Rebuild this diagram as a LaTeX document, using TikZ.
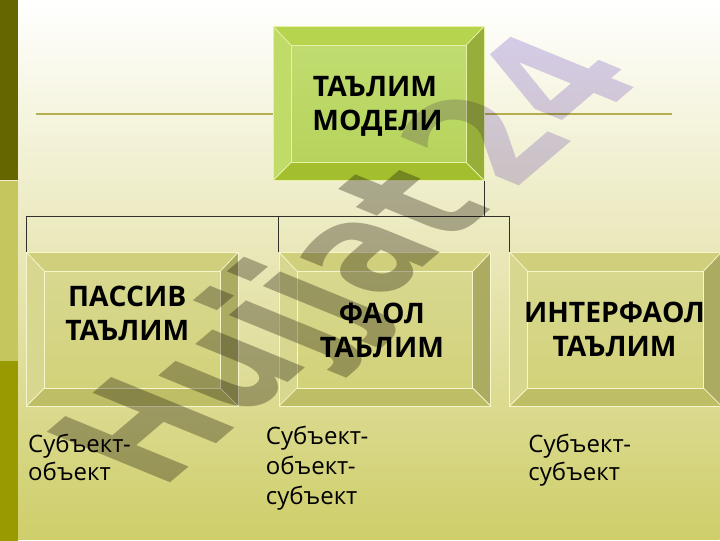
\documentclass[tikz,border=0pt]{standalone}
\usepackage{fontspec}
\setmainfont{Open Sans}
\newfontfamily\markfont{DejaVu Sans}
\usepackage{tikz}
\usetikzlibrary{calc,positioning}
\newlength{\px}
\setlength{\px}{.75pt}
\definecolor{barTop}{HTML}{666600}
\definecolor{barMid}{HTML}{C6C65E}
\definecolor{barLow}{HTML}{999900}
\definecolor{ruleCol}{HTML}{B4AE50}
\definecolor{pageMid}{HTML}{E8E6B4}
\definecolor{pageLow}{HTML}{CECE6A}
\definecolor{greenA}{HTML}{C0DC70}
\definecolor{greenB}{HTML}{B6D45C}
\definecolor{greenTop}{HTML}{B6D44E}
\definecolor{greenRight}{HTML}{97AF3A}
\definecolor{greenLow}{HTML}{A3BF2E}
\definecolor{greenLine}{HTML}{E6F0A6}
\definecolor{oliveA}{HTML}{D8D890}
\definecolor{oliveB}{HTML}{D2D27A}
\definecolor{oliveTop}{HTML}{D0D07C}
\definecolor{oliveRight}{HTML}{ABAB62}
\definecolor{oliveLow}{HTML}{BEBE66}
\definecolor{oliveLine}{HTML}{F6F6CC}
\definecolor{markGrey}{HTML}{B6B4B0}
\definecolor{markLilac}{HTML}{D8CFF2}

\begin{document}
\begin{tikzpicture}[auto,
	page/.style={rectangle,inner sep=0pt,minimum width=720\px,minimum height=540\px,top color=white,bottom color=pageLow,middle color=pageMid},
	bar/.style={rectangle,inner sep=0pt,minimum width=18\px,minimum height=180\px},
	bevelbox/.style n args={6}{rectangle,inner sep=0pt,minimum width=212\px,minimum height=154\px,draw=#6,semithick,
		path picture={
			\coordinate (o1) at (path picture bounding box.north west);
			\coordinate (o2) at (path picture bounding box.north east);
			\coordinate (o3) at (path picture bounding box.south east);
			\coordinate (o4) at (path picture bounding box.south west);
			\coordinate (i1) at ($(o1)+(18\px,-19\px)$);
			\coordinate (i2) at ($(o2)+(-18\px,-19\px)$);
			\coordinate (i3) at ($(o3)+(-18\px,18\px)$);
			\coordinate (i4) at ($(o4)+(18\px,18\px)$);
			\shade [top color=#1,bottom color=#2] (i1) rectangle (i3);
			\fill [#3] (o1) -- (o2) -- (i2) -- (i1) -- cycle;
			\fill [#4] (o2) -- (o3) -- (i3) -- (i2) -- cycle;
			\fill [#5] (o3) -- (o4) -- (i4) -- (i3) -- cycle;
			\fill [#3!85!white] (o4) -- (o1) -- (i1) -- (i4) -- cycle;
			\draw [#6] (i1) rectangle (i3);
			\draw [#6] (o1) -- (i1) (o2) -- (i2) (o3) -- (i3) (o4) -- (i4);
		}},
	greenbox/.style={bevelbox={greenA}{greenB}{greenTop}{greenRight}{greenLow}{greenLine},minimum width=211\px},
	olivebox/.style={bevelbox={oliveA}{oliveB}{oliveTop}{oliveRight}{oliveLow}{oliveLine}},
	title/.style={align=center,inner sep=0pt,font=\fontsize{21.2}{25.5}\selectfont\bfseries,text=black},
	note/.style={align=left,inner sep=0pt,font=\fontsize{18}{22.5}\selectfont,text=black},
	links/.style={draw=black!85!olive,thin}
	]
\node [page] (back) {};
\useasboundingbox (back.north west) rectangle (back.south east);

\node [bar,fill=barTop] (bar1) [below right = 0pt and 0pt of back.north west] {};
\node [bar,fill=barMid] (bar2) [below = 0pt of bar1] {};
\node [bar,fill=barLow] (bar3) [below = 0pt of bar2] {};

\coordinate [below right = 114\px and 36\px of back.north west] (ruleL);
\coordinate [below right = 114\px and 672\px of back.north west] (ruleR);
\draw [ruleCol,line width=1.5pt] (ruleL) -- (ruleR);

\node [greenbox] (model) [below right = 26\px and 273\px of back.north west] {};
\node [olivebox] (passiv) [below right = 252\px and 26\px of back.north west] {};
\node [olivebox] (faol) [right = 40\px of passiv] {};
\node [olivebox] (inter) [right = 18\px of faol] {};

\node [title] (modelT) [below = 50\px of model.north,xshift=-1\px] {ТАЪЛИМ\kern 4pt\\МОДЕЛИ};
\node [title] (passivT) [below = 34\px of passiv.north,xshift=-5\px] {ПАССИВ\\ТАЪЛИМ};
\node [title] (faolT) [below = 51\px of faol.north,xshift=-3\px] {ФАОЛ\\ТАЪЛИМ};
\node [title] (interT) [below = 50\px of inter.north,xshift=-1\px] {ИНТЕРФАОЛ\\ТАЪЛИМ};

\node [note] (passivN) [below right = 27\px and 2\px of passiv.south west] {Субъект-\\[-1.2pt]объект};
\node [note] (faolN) [below right = 19\px and -13\px of faol.south west] {Субъект-\\объект-\\субъект};
\node [note] (interN) [below right = 27\px and 19\px of inter.south west] {Субъект-\\[-1.2pt]субъект};

\coordinate [below = 36\px of model.south east] (bus);
\draw [links] (model.south east) -- (bus);
\draw [links] (bus) -| (passiv.north west);
\draw [links] (bus) -| (faol.north west);
\draw [links] (bus) -| (inter.north west);

% watermark
\begin{scope}[blend mode=multiply,shift={(back.north west)},cm={0.74,0.63,-1.27,0.52,(161\px,-491\px)}]
\node [transform shape,anchor=base west,inner sep=0pt,font=\markfont\fontsize{100}{100}\selectfont\bfseries] (wmark) at (0,0)
	{\textcolor{markGrey}{Hujjat}\textcolor{markLilac}{\,24}};
\end{scope}
\end{tikzpicture}
\end{document}
